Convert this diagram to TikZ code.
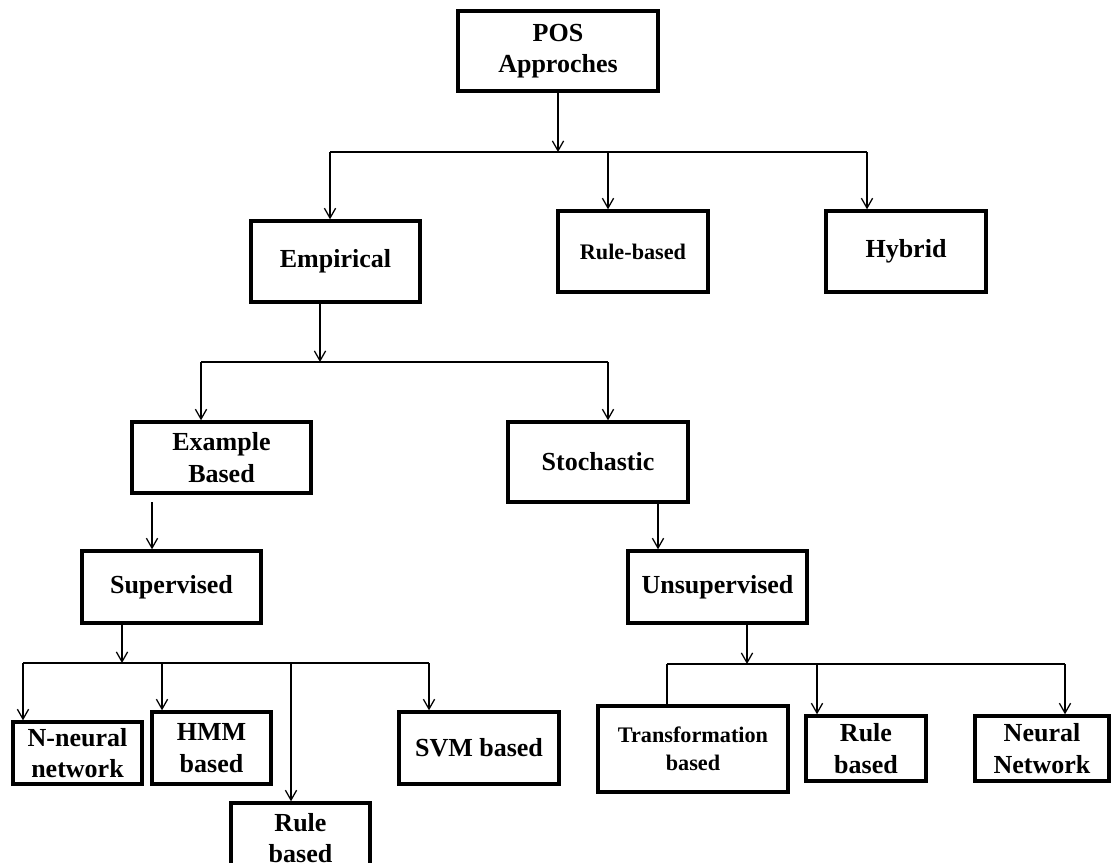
\documentclass[tikz,border=0pt]{standalone}
\usepackage{fontspec}
\setmainfont{Liberation Serif}
\usepackage{tikz}
\usetikzlibrary{arrows.meta}
\tikzset{
  box/.style={
    rectangle, draw=black, line width=2.4pt, align=center, inner sep=2pt,
    font=\bfseries\fontsize{18.5}{22.4}\selectfont
  },
  smallbox/.style={box, font=\bfseries\fontsize{15.8}{20.3}\selectfont},
  arrow/.style={-{Straight Barb[length=7pt,width=8pt]}, line width=0.9pt},
  link/.style={line width=0.9pt}
}

\begin{document}
\begin{tikzpicture}[x=0.025cm, y=-0.025cm]
  \useasboundingbox (0,0) rectangle (1111,862);
  \clip (0,0) rectangle (1111,862);

  % boxes
  \node[box, minimum width=5cm, minimum height=2cm] (pos) at (558,51)
    {POS\\Approches};
  \node[box, minimum width=4.225cm, minimum height=2.025cm] (emp) at (335.5,261.5)
    {Empirical};
  \node[smallbox, minimum width=3.75cm, minimum height=2.025cm] (rule) at (633,251.5)
    {Rule-based};
  \node[box, minimum width=4cm, minimum height=2.025cm] (hyb) at (906,251.5)
    {Hybrid};
  \node[box, minimum width=4.475cm, minimum height=1.775cm] (exb) at (221.5,457.5)
    {Example\\Based};
  \node[box, minimum width=4.5cm, minimum height=2cm] (sto) at (598,462)
    {Stochastic};
  \node[box, minimum width=4.475cm, minimum height=1.8cm] (sup) at (171.5,587)
    {Supervised};
  \node[box, minimum width=4.475cm, minimum height=1.8cm] (uns) at (717.5,587)
    {Unsupervised};
  \node[box, minimum width=3.225cm, minimum height=1.55cm] (nnn) at (77.5,753)
    {N-neural\\network};
  \node[box, minimum width=2.975cm, minimum height=1.8cm] (hmm) at (211.5,748)
    {HMM\\based};
  \node[box, minimum width=3.475cm, minimum height=1.75cm] (rlb) at (300.5,838)
    {Rule\\based};
  \node[box, minimum width=4cm, minimum height=1.8cm] (svm) at (479,748)
    {SVM based};
  \node[smallbox, minimum width=4.75cm, minimum height=2.15cm] (trf) at (693,749)
    {Transformation\\based};
  \node[box, minimum width=3cm, minimum height=1.625cm] (rlu) at (866,748.5)
    {Rule\\based};
  \node[box, minimum width=3.35cm, minimum height=1.625cm] (nn) at (1042,748.5)
    {Neural\\Network};

  % junctions
  \coordinate (top) at (558,152);
  \coordinate (topl) at (330,152);
  \coordinate (topm) at (608,152);
  \coordinate (topr) at (867,152);
  \coordinate (emj) at (320,362);
  \coordinate (eml) at (201,362);
  \coordinate (emr) at (608,362);
  \coordinate (exs) at (152,502);
  \coordinate (stu) at (658,502);
  \coordinate (suj) at (122,663);
  \coordinate (sul) at (23,663);
  \coordinate (su2) at (162,663);
  \coordinate (su3) at (291,663);
  \coordinate (sur) at (429,663);
  \coordinate (unj) at (747,664);
  \coordinate (unl) at (667,664);
  \coordinate (un2) at (817,664);
  \coordinate (unr) at (1065,664);

  \draw[arrow] (pos) -- (top);
  \draw[link] (topl) -- (topr);
  \draw[arrow] (topl) -- (topl |- emp.north);
  \draw[arrow] (topm) -- (topm |- rule.north);
  \draw[arrow] (topr) -- (topr |- hyb.north);

  \draw[arrow] (emj |- emp.south) -- (emj);
  \draw[link] (eml) -- (emr);
  \draw[arrow] (eml) -- (eml |- exb.north);
  \draw[arrow] (emr) -- (emr |- sto.north);

  \draw[arrow] (exs) -- (exs |- sup.north);
  \draw[arrow] (stu) -- (stu |- uns.north);

  \draw[arrow] (suj |- sup.south) -- (suj);
  \draw[link] (sul) -- (sur);
  \draw[arrow] (sul) -- (sul |- nnn.north);
  \draw[arrow] (su2) -- (su2 |- hmm.north);
  \draw[arrow] (su3) -- (su3 |- rlb.north);
  \draw[arrow] (sur) -- (sur |- svm.north);

  \draw[arrow] (unj |- uns.south) -- (unj);
  \draw[link] (unl) -- (unr);
  \draw[link] (unl) -- (unl |- trf.north);
  \draw[arrow] (un2) -- (un2 |- rlu.north);
  \draw[arrow] (unr) -- (unr |- nn.north);
\end{tikzpicture}
\end{document}
